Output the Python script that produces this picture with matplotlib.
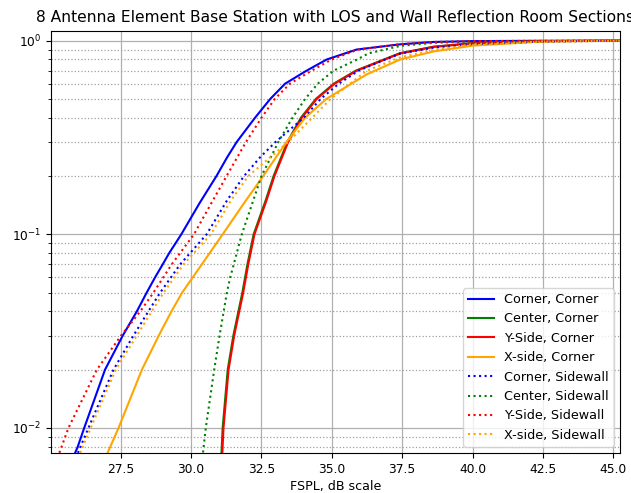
import matplotlib
matplotlib.use("Agg")
import matplotlib.pyplot as plt

# FSPL (dB) / CDF pairs for each base-station placement and room section
corner_corner_fspl = [25.80, 25.97, 26.20, 26.94, 27.57, 28.07, 28.42, 28.72, 28.99, 29.22,
                      29.65, 30.30, 30.90, 31.28, 31.62, 32.27, 32.81, 33.34, 34.10, 34.82,
                      35.88, 37.43, 38.62, 40.00, 42.50, 45.25]
corner_corner_cdf = [0.007, 0.008, 0.01, 0.02, 0.03, 0.04, 0.05, 0.06, 0.07, 0.08,
                     0.1, 0.145, 0.2, 0.25, 0.3, 0.4, 0.5, 0.6, 0.7, 0.8,
                     0.9, 0.958, 0.985, 0.995, 0.999, 1.0]

center_corner_fspl = [31.07, 31.12, 31.30, 31.50, 31.68, 31.82, 32.00, 32.22, 32.65, 32.93,
                      33.42, 33.90, 34.43, 35.07, 35.85, 37.40, 38.60, 40.00, 42.50, 45.25]
center_corner_cdf = [0.007, 0.01, 0.02, 0.03, 0.04, 0.05, 0.07, 0.1, 0.15, 0.2,
                     0.3, 0.4, 0.5, 0.6, 0.7, 0.86, 0.93, 0.97, 0.995, 1.0]

yside_corner_fspl = [31.10, 31.15, 31.33, 31.53, 31.71, 31.85, 32.03, 32.25, 32.68, 32.96,
                     33.45, 33.93, 34.46, 35.10, 35.88, 37.43, 38.62, 40.00, 42.50, 45.25]
yside_corner_cdf = [0.007, 0.01, 0.02, 0.03, 0.04, 0.05, 0.07, 0.1, 0.15, 0.2,
                    0.3, 0.4, 0.5, 0.6, 0.7, 0.86, 0.93, 0.97, 0.995, 1.0]

xside_corner_fspl = [26.95, 27.42, 28.25, 28.85, 29.30, 29.68, 30.38, 31.12, 31.88, 32.56,
                     33.39, 34.05, 34.80, 36.24, 37.43, 38.62, 40.00, 42.50, 45.25]
xside_corner_cdf = [0.007, 0.01, 0.02, 0.03, 0.04, 0.05, 0.07, 0.1, 0.145, 0.2,
                    0.3, 0.4, 0.5, 0.67, 0.80, 0.88, 0.943, 0.99, 1.0]

corner_side_fspl = [25.90, 26.35, 27.24, 27.95, 28.48, 28.90, 29.61, 30.55, 31.28, 31.88,
                    32.45, 33.00, 34.00, 34.60, 35.25, 35.95, 36.90, 37.45, 38.60, 40.00,
                    42.50, 45.25]
corner_side_cdf = [0.007, 0.01, 0.02, 0.03, 0.04, 0.05, 0.07, 0.1, 0.15, 0.2,
                   0.25, 0.3, 0.4, 0.5, 0.6, 0.7, 0.8, 0.86, 0.92, 0.96,
                   0.99, 1.0]

center_side_fspl = [30.40, 30.52, 30.82, 31.01, 31.27, 31.39, 31.80, 32.50, 33.10, 33.60,
                    34.05, 34.50, 35.06, 35.90, 36.30, 37.43, 38.62, 40.00, 45.25]
center_side_cdf = [0.007, 0.01, 0.02, 0.03, 0.05, 0.06, 0.1, 0.2, 0.3, 0.4,
                   0.5, 0.6, 0.7, 0.8, 0.86, 0.94, 0.975, 0.99, 1.0]

yside_side_fspl = [25.25, 25.64, 26.65, 27.51, 28.19, 28.66, 29.31, 30.10, 30.72, 31.26,
                   31.95, 32.50, 32.97, 33.51, 34.28, 34.99, 35.93, 37.43, 38.62, 40.00,
                   42.50, 45.25]
yside_side_cdf = [0.007, 0.01, 0.02, 0.03, 0.04, 0.05, 0.07, 0.1, 0.145, 0.2,
                  0.3, 0.4, 0.5, 0.6, 0.7, 0.8, 0.9, 0.96, 0.985, 0.995,
                  0.999, 1.0]

xside_side_fspl = [25.98, 26.43, 27.32, 28.07, 28.60, 29.02, 29.73, 30.70, 31.42, 32.03,
                   33.45, 34.30, 34.95, 36.24, 37.43, 38.62, 40.00, 42.50, 45.25]
xside_side_cdf = [0.007, 0.01, 0.02, 0.03, 0.04, 0.05, 0.07, 0.1, 0.15, 0.2,
                  0.3, 0.4, 0.5, 0.70, 0.82, 0.895, 0.96, 0.99, 1.0]

fig = plt.figure(figsize=(6.31, 4.93), dpi=100)
ax = fig.add_axes([0.0808, 0.0805, 0.9018, 0.8572])

ax.plot(corner_corner_fspl, corner_corner_cdf, color='blue', label='Corner, Corner')
ax.plot(center_corner_fspl, center_corner_cdf, color='green', label='Center, Corner')
ax.plot(yside_corner_fspl, yside_corner_cdf, color='red', label='Y-Side, Corner')
ax.plot(xside_corner_fspl, xside_corner_cdf, color='orange', label='X-side, Corner')
ax.plot(corner_side_fspl, corner_side_cdf, ':', color='blue', label='Corner, Sidewall')
ax.plot(center_side_fspl, center_side_cdf, ':', color='green', label='Center, Sidewall')
ax.plot(yside_side_fspl, yside_side_cdf, ':', color='red', label='Y-Side, Sidewall')
ax.plot(xside_side_fspl, xside_side_cdf, ':', color='orange', label='X-side, Sidewall')

ax.set_yscale('log')
ax.set_xlim(25.02, 45.24)
ax.set_ylim(0.0074, 1.126)
ax.grid(which='major', color='#b0b0b0', linewidth=0.9)
ax.grid(which='minor', axis='y', color='#a0a0a0', linestyle=':', linewidth=0.9)
ax.tick_params(labelsize=8.8)

ax.set_title('8 Antenna Element Base Station with LOS and Wall Reflection Room Sections',
             fontsize=11.2)
ax.set_xlabel('FSPL, dB scale', fontsize=9.1, labelpad=2.5)
ax.legend(loc='lower right', fontsize=9.2)

fig.savefig('out.png', dpi=100)
